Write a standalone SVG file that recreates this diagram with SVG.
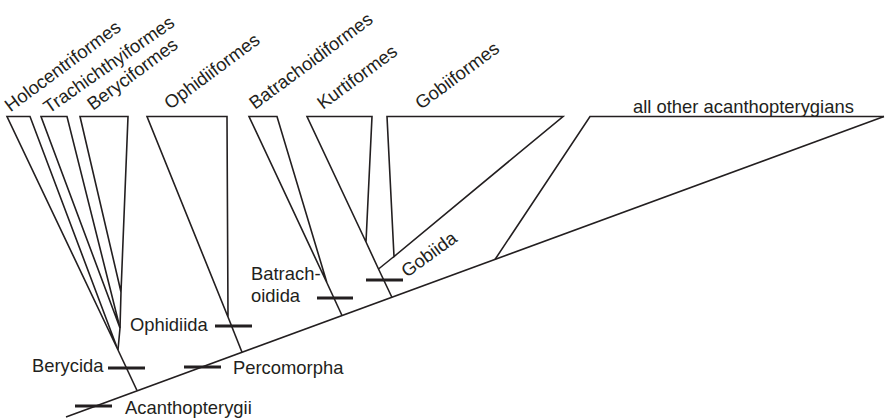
<svg xmlns="http://www.w3.org/2000/svg" width="885" height="419" viewBox="0 0 885 419">
<style>
.ln{fill:none;stroke:#231f20;stroke-width:1.6;stroke-linejoin:miter;stroke-linecap:butt}
.tk{stroke:#231f20;stroke-width:3;fill:none}
text{font-family:"Liberation Sans",Arial,Helvetica,sans-serif;font-size:18.4px;fill:#231f20}
</style>
<rect width="885" height="419" fill="#ffffff"/>
<g id="connectors" class="ln">
<line x1="66" y1="417" x2="884" y2="116.5"/>
<line x1="118" y1="350" x2="137" y2="390.5"/>
<polyline points="121,292 120,328 118,350"/>
<line x1="228" y1="317" x2="242" y2="352.3"/>
<line x1="327" y1="283" x2="342" y2="315.5"/>
<polyline points="366,242 378.5,269 392,297.5"/>
<line x1="394" y1="256.5" x2="378.5" y2="269"/>
</g>
<g id="holocentriformes">
<polygon class="ln" points="7,116.5 30,116.5 118,350"/>
<text transform="translate(10.5,112.5) rotate(-36.5)">Holocentriformes</text>
</g>
<g id="trachichthyiformes">
<polygon class="ln" points="41,116.5 67,116.5 120,328"/>
<text transform="translate(49,114) rotate(-35)">Trachichthyiformes</text>
</g>
<g id="beryciformes">
<polygon class="ln" points="80,116.5 128,116.5 121,292"/>
<text transform="translate(93,111) rotate(-36.5)">Beryciformes</text>
</g>
<g id="ophidiiformes">
<polygon class="ln" points="147,116.5 227,116.5 228,317"/>
<text transform="translate(170,110) rotate(-36.5)">Ophidiiformes</text>
</g>
<g id="batrachoidiformes">
<polygon class="ln" points="249,116.5 277,116.5 327,283"/>
<text transform="translate(255,110) rotate(-36.5)">Batrachoidiformes</text>
</g>
<g id="kurtiformes">
<polygon class="ln" points="307,116.5 372,116.5 366,242"/>
<text transform="translate(323,110) rotate(-36.5)">Kurtiformes</text>
</g>
<g id="gobiiformes">
<polygon class="ln" points="387,116.5 563,116.5 394,256.5"/>
<text transform="translate(421,110) rotate(-36.5)">Gobiiformes</text>
</g>
<g id="all-other-acanthopterygians">
<polyline class="ln" points="495,259.5 590,116.5 884,116.5"/>
<text x="633" y="113">all other acanthopterygians</text>
</g>
<g id="gobiida">
<line class="tk" x1="366" y1="280" x2="403" y2="280"/>
<text transform="translate(407,278) rotate(-36)">Gobiida</text>
</g>
<g id="batrachoidida">
<line class="tk" x1="317" y1="298" x2="353" y2="298"/>
<text x="251" y="280">Batrach-</text>
<text x="251" y="302">oidida</text>
</g>
<g id="ophidiida">
<line class="tk" x1="215" y1="326" x2="252" y2="326"/>
<text x="130" y="331">Ophidiida</text>
</g>
<g id="berycida">
<line class="tk" x1="108" y1="368" x2="145" y2="368"/>
<text x="32" y="372">Berycida</text>
</g>
<g id="percomorpha">
<line class="tk" x1="184" y1="367" x2="221" y2="367"/>
<text x="233" y="374">Percomorpha</text>
</g>
<g id="acanthopterygii">
<line class="tk" x1="75" y1="406" x2="112" y2="406"/>
<text x="125" y="414">Acanthopterygii</text>
</g>
</svg>
